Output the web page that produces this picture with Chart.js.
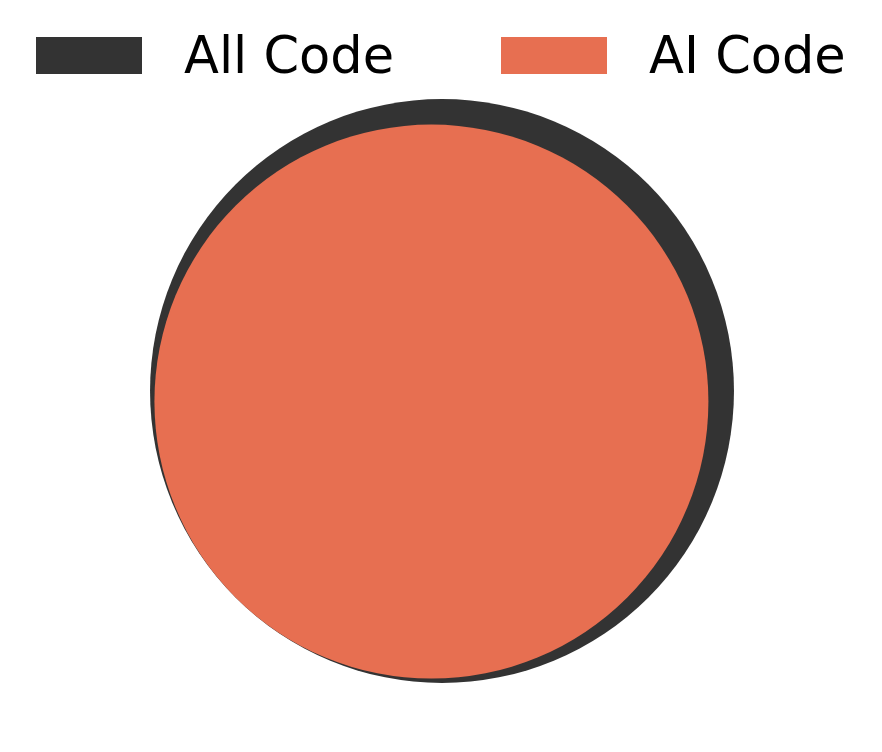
<!DOCTYPE html>
<html><head><meta charset="utf-8">
<script src="https://cdn.jsdelivr.net/npm/chart.js@4"></script>
<style>html,body{margin:0;padding:0;background:#fff}</style>
</head><body>
<canvas id="c" width="882" height="752"></canvas>
<script>
// Data
const categories = ['All Code', 'AI Code'];
const areaValues = [100, 90]; // relative area (share of code)

// Derived layout (area-proportional circles, AI circle nested & tangent)
const radiiData = areaValues.map(v => Math.sqrt(v / Math.PI));
const shift = (radiiData[0] - radiiData[1]) / Math.SQRT2;
const centersX = [0, -shift];
const centersY = [0, -shift];

const xRange = [-8.541, 8.502];
const yRange = [-6.976, 5.720];

const colors = ['#333333', '#E76F51'];

const radiusFn = (ctx) => {
  const ppu = ctx.chart.width / (xRange[1] - xRange[0]);
  return radiiData[ctx.datasetIndex] * ppu;
};

// legend swatch: rectangle drawn in the upper part of a slightly taller canvas
function swatch(color) {
  const c = document.createElement('canvas');
  c.width = 106; c.height = 45;
  const g = c.getContext('2d');
  g.fillStyle = color;
  g.fillRect(0, 0, 106, 37);
  return c;
}

new Chart(document.getElementById('c'), {
  type: 'bubble',
  data: {
    datasets: categories.map((name, i) => ({
      label: name,
      data: [{ x: centersX[i], y: centersY[i] }],
      backgroundColor: colors[i],
      borderColor: colors[i],
      borderWidth: 0,
      radius: radiusFn,
      hoverRadius: 0,
      clip: false,
      order: i === 0 ? 1 : 0
    }))
  },
  options: {
    responsive: false,
    animation: false,
    events: [],
    layout: { autoPadding: false, padding: { top: 24, left: 0, right: 0, bottom: 0 } },
    scales: {
      x: { type: 'linear', display: false, min: xRange[0], max: xRange[1] },
      y: { type: 'linear', display: false, min: yRange[0], max: yRange[1] }
    },
    plugins: {
      tooltip: { enabled: false },
      legend: {
        position: 'top',
        labels: {
          usePointStyle: true,
          pointStyleWidth: 106,
          boxWidth: 106,
          boxHeight: 37,
          padding: 10,
          color: '#000000',
          font: { family: 'DejaVu Sans', size: 51 },
          generateLabels: (chart) => chart.data.datasets.map((ds, i) => ({
            text: ' ' + ds.label + (i === 0 ? '      ' : ''),
            fillStyle: ds.backgroundColor,
            strokeStyle: ds.backgroundColor,
            pointStyle: swatch(ds.backgroundColor),
            lineWidth: 0,
            hidden: false,
            datasetIndex: i,
            fontColor: '#000000'
          }))
        }
      }
    }
  }
});
</script>
</body></html>
